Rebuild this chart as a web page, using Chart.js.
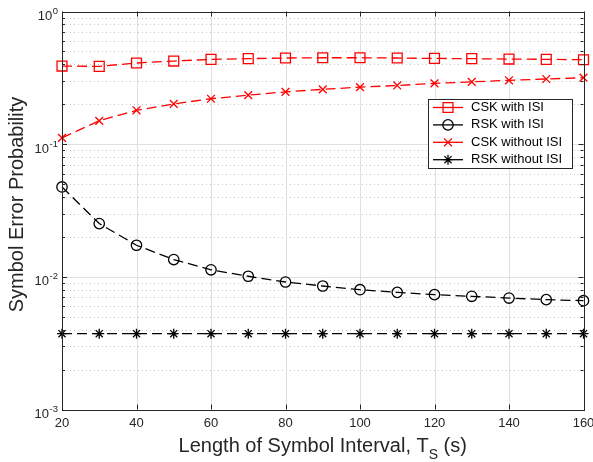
<!DOCTYPE html>
<html>
<head>
<meta charset="utf-8">
<script src="https://cdn.jsdelivr.net/npm/chart.js@4.4.1/dist/chart.umd.min.js"></script>
<style>
    html, body { margin: 0; padding: 0; background: #ffffff; }
    #grafica { display: block; }
</style>
</head>
<body>
<canvas id="grafica" width="593" height="462"></canvas>
<script>
// datos
const intervalos = [20, 30, 40, 50, 60, 70, 80, 90, 100, 110, 120, 130, 140, 150, 160];
const cskConISI = [0.388, 0.386, 0.409, 0.423, 0.436, 0.441, 0.446, 0.448, 0.448, 0.446, 0.443, 0.441, 0.438, 0.436, 0.433];
const rskConISI = [0.0476, 0.0252, 0.0173, 0.0135, 0.0113, 0.0101, 0.00914, 0.00853, 0.0080, 0.00764, 0.00734, 0.00713, 0.00692, 0.00673, 0.00661];
const cskSinISI = [0.1116, 0.150, 0.180, 0.201, 0.220, 0.234, 0.248, 0.259, 0.269, 0.277, 0.287, 0.295, 0.303, 0.310, 0.317];
const rskSinISI = [0.00373, 0.00373, 0.00373, 0.00373, 0.00373, 0.00373, 0.00373, 0.00373, 0.00373, 0.00373, 0.00373, 0.00373, 0.00373, 0.00373, 0.00373];

const ticksX = [20, 40, 60, 80, 100, 120, 140, 160];
const exponentesY = [0, -1, -2, -3];

const tituloX = "Length of Symbol Interval, T";
const subTituloX = "S";
const finTituloX = " (s)";
const tituloY = "Symbol Error Probability";

const fuente = "'Liberation Sans', Arial, sans-serif";
const colorEje = "#262626";

function puntos(valores) {
    return intervalos.map((x, i) => ({ x: x, y: valores[i] }));
}

function serie(nombre, valores, color, estilo, radio) {
    return {
        label: nombre,
        data: puntos(valores),
        borderColor: color,
        borderWidth: 1.3,
        borderDash: [10, 5],
        pointStyle: estilo,
        pointRadius: radio,
        pointHoverRadius: radio,
        pointBorderColor: color,
        pointBackgroundColor: "rgba(0,0,0,0)",
        pointBorderWidth: 1.3,
        tension: 0,
        fill: false,
        clip: false,
    };
}

const datasetss = [
    serie("CSK with ISI", cskConISI, "#ff0000", "rect", 7),
    serie("RSK with ISI", rskConISI, "#000000", "circle", 5.2),
    serie("CSK without ISI", cskSinISI, "#ff0000", "crossRot", 5.5),
    serie("RSK without ISI", rskSinISI, "#000000", "star", 5),
];

// ejes al estilo matlab: rejilla, caja, marcas y textos
const ejesMatlab = {
    id: "ejesMatlab",
    beforeDatasetsDraw(chart) {
        const { ctx, chartArea: a, scales: { x, y } } = chart;
        ctx.save();
        ctx.lineWidth = 1;
        // rejilla menor punteada
        ctx.strokeStyle = "#c8c8c8";
        ctx.setLineDash([1, 3]);
        for (let d = -3; d < 0; d++) {
            for (let k = 2; k <= 9; k++) {
                const py = Math.round(y.getPixelForValue(k * Math.pow(10, d))) + 0.5;
                ctx.beginPath();
                ctx.moveTo(a.left, py);
                ctx.lineTo(a.right, py);
                ctx.stroke();
            }
        }
        // rejilla mayor
        ctx.setLineDash([]);
        ctx.strokeStyle = "#e0e0e0";
        ticksX.forEach(t => {
            const px = Math.round(x.getPixelForValue(t)) + 0.5;
            ctx.beginPath();
            ctx.moveTo(px, a.top);
            ctx.lineTo(px, a.bottom);
            ctx.stroke();
        });
        exponentesY.forEach(e => {
            const py = Math.round(y.getPixelForValue(Math.pow(10, e))) + 0.5;
            ctx.beginPath();
            ctx.moveTo(a.left, py);
            ctx.lineTo(a.right, py);
            ctx.stroke();
        });
        ctx.restore();
    },
    afterDatasetsDraw(chart) {
        const { ctx, chartArea: a, scales: { x, y } } = chart;
        ctx.save();
        ctx.strokeStyle = colorEje;
        ctx.lineWidth = 1;
        ctx.setLineDash([]);
        ctx.strokeRect(Math.round(a.left) + 0.5, Math.round(a.top) + 0.5,
            Math.round(a.right - a.left), Math.round(a.bottom - a.top));

        // marcas
        ctx.beginPath();
        ticksX.forEach(t => {
            const px = Math.round(x.getPixelForValue(t)) + 0.5;
            ctx.moveTo(px, a.bottom); ctx.lineTo(px, a.bottom - 5);
            ctx.moveTo(px, a.top); ctx.lineTo(px, a.top + 5);
        });
        for (let d = -3; d <= 0; d++) {
            for (let k = 1; k <= 9; k++) {
                if (d === 0 && k > 1) break;
                const py = Math.round(y.getPixelForValue(k * Math.pow(10, d))) + 0.5;
                const largo = k === 1 ? 5 : 3;
                ctx.moveTo(a.left, py); ctx.lineTo(a.left + largo, py);
                ctx.moveTo(a.right, py); ctx.lineTo(a.right - largo, py);
            }
        }
        ctx.stroke();

        // etiquetas del eje x
        ctx.fillStyle = colorEje;
        ctx.font = "13px " + fuente;
        ctx.textAlign = "center";
        ctx.textBaseline = "middle";
        ticksX.forEach(t => {
            ctx.fillText(String(t), x.getPixelForValue(t), a.bottom + 14);
        });

        // etiquetas del eje y con exponente
        exponentesY.forEach(e => {
            const py = y.getPixelForValue(Math.pow(10, e));
            const derecha = a.left - 4;
            ctx.font = "9.5px " + fuente;
            ctx.textAlign = "right";
            const txtExp = e < 0 ? "-" + Math.abs(e) : String(e);
            ctx.fillText(txtExp, derecha, py);
            const anchoExp = ctx.measureText(txtExp).width;
            ctx.font = "13px " + fuente;
            ctx.fillText("10", derecha - anchoExp - 0.5, py + 5);
        });

        // título del eje x con subíndice
        ctx.textAlign = "left";
        ctx.textBaseline = "alphabetic";
        ctx.font = "20px " + fuente;
        const w1 = ctx.measureText(tituloX).width;
        const w3 = ctx.measureText(finTituloX).width;
        ctx.font = "14px " + fuente;
        const w2 = ctx.measureText(subTituloX).width;
        const centroX = (a.left + a.right) / 2;
        let inicio = centroX - (w1 + w2 + w3) / 2;
        const base = 452;
        ctx.font = "20px " + fuente;
        ctx.fillText(tituloX, inicio, base);
        ctx.font = "14px " + fuente;
        ctx.fillText(subTituloX, inicio + w1, base + 7);
        ctx.font = "20px " + fuente;
        ctx.fillText(finTituloX, inicio + w1 + w2, base);

        // título del eje y
        ctx.save();
        ctx.translate(17, (a.top + a.bottom) / 2 - 6);
        ctx.rotate(-Math.PI / 2);
        ctx.textAlign = "center";
        ctx.textBaseline = "middle";
        ctx.font = "20px " + fuente;
        ctx.fillText(tituloY, 0, 0);
        ctx.restore();

        // leyenda
        const caja = { x: 428.5, y: 99.5, w: 144, h: 69 };
        ctx.fillStyle = "#ffffff";
        ctx.fillRect(caja.x, caja.y, caja.w, caja.h);
        ctx.strokeStyle = colorEje;
        ctx.lineWidth = 1;
        ctx.strokeRect(caja.x, caja.y, caja.w, caja.h);
        chart.data.datasets.forEach((ds, i) => {
            const fy = 107.5 + i * 17.4;
            ctx.strokeStyle = ds.borderColor;
            ctx.lineWidth = ds.borderWidth;
            ctx.setLineDash([]);
            ctx.beginPath();
            ctx.moveTo(433, fy);
            ctx.lineTo(463, fy);
            ctx.stroke();
            ctx.fillStyle = "rgba(0,0,0,0)";
            ctx.lineWidth = ds.pointBorderWidth;
            Chart.helpers.drawPoint(ctx, {
                pointStyle: ds.pointStyle,
                radius: ds.pointRadius,
                rotation: 0,
                borderWidth: ds.pointBorderWidth,
            }, 448, fy);
            ctx.fillStyle = "#000000";
            ctx.font = "13px " + fuente;
            ctx.textAlign = "left";
            ctx.textBaseline = "middle";
            ctx.fillText(ds.label, 471, fy);
        });
        ctx.restore();
    },
};

const grafica = document.getElementById("grafica");

const configuracion = {
    type: "line",
    data: { datasets: datasetss },
    options: {
        responsive: false,
        animation: false,
        devicePixelRatio: 1,
        layout: { padding: { left: 62, top: 11.5, right: 9.5, bottom: 52.5 } },
        scales: {
            x: { type: "linear", min: 20, max: 160, display: false },
            y: { type: "logarithmic", min: 0.001, max: 1, display: false },
        },
        plugins: {
            legend: { display: false },
            tooltip: { enabled: false },
        },
    },
    plugins: [ejesMatlab],
};

window.myChart = new Chart(grafica, configuracion);
</script>
</body>
</html>
